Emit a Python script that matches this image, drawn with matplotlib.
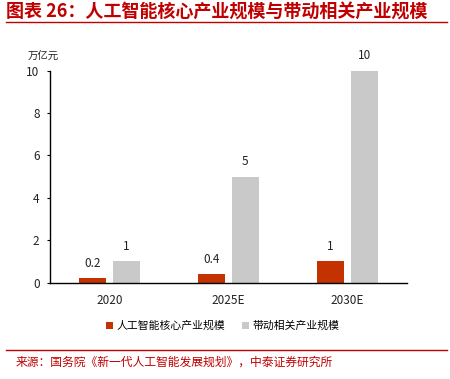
import numpy as np
import matplotlib.pyplot as plt
from matplotlib.lines import Line2D

plt.rcParams['font.family'] = ['Noto Sans CJK SC', 'DejaVu Sans']

years = ['2020', '2025E', '2030E']
core = [0.2, 0.4, 1]
related = [1, 5, 10]
core_lbl = ['0.2', '0.4', '1']
related_lbl = ['1', '5', '10']
names = ['人工智能核心产业规模', '带动相关产业规模']

red = '#C33200'
gray = '#C9C9C9'

fig = plt.figure(figsize=(4.5, 3.79), dpi=100)
ax = fig.add_axes([0.1111, 0.2541, 0.7926, 0.5594])

x = np.arange(len(years))
w = 0.227
b1 = ax.bar(x - 0.143, core, w, color=red, label=names[0])
b2 = ax.bar(x + 0.143, related, w, color=gray, label=names[1])

for bars, labs in ((b1, core_lbl), (b2, related_lbl)):
    for r, t in zip(bars, labs):
        ax.annotate(t, (r.get_x() + r.get_width() / 2, r.get_height()),
                    xytext=(0, 6), textcoords='offset points',
                    ha='center', va='bottom', fontsize=8.5, color='#222222')

ax.set_xlim(-0.5, 2.5)
ax.set_ylim(0, 10)
ax.set_yticks([0, 2, 4, 6, 8, 10])
ax.set_xticks(x)
ax.set_xticklabels(years)
ax.tick_params(axis='x', length=0, pad=8, labelsize=8.5, colors='#222222')
ax.tick_params(axis='y', length=2.5, pad=5, labelsize=8.5, colors='#222222', width=0.8)
ax.tick_params(axis='y', color='black')
for s in ['top', 'right']:
    ax.spines[s].set_visible(False)
for s in ['left', 'bottom']:
    ax.spines[s].set_linewidth(1.0)
    ax.spines[s].set_color('black')

fig.text(28 / 450, 1 - 57 / 379, '万亿元', fontsize=7.5, va='center', ha='left', color='#222222')

leg = fig.legend(handles=[b1, b2], loc='center', bbox_to_anchor=(0.495, 1 - 326 / 379),
                 ncol=2, frameon=False, fontsize=7.8, handlelength=0.6, handleheight=0.6,
                 handletextpad=0.3, columnspacing=1.6)

fig.text(6 / 450, 1 - 12 / 379, '图表 26：人工智能核心产业规模与带动相关产业规模',
         fontsize=13, fontweight='bold', color='#C00000', va='center', ha='left')
fig.add_artist(Line2D([6 / 450, 447 / 450], [1 - 22 / 379, 1 - 22 / 379],
                      color='#C00000', lw=1.0))
fig.add_artist(Line2D([6 / 450, 447 / 450], [1 - 350 / 379, 1 - 350 / 379],
                      color='#C00000', lw=1.0))
fig.text(16 / 450, 1 - 362 / 379, '来源：国务院《新一代人工智能发展规划》，中泰证券研究所',
         fontsize=8.5, color='#C00000', va='center', ha='left')

fig.savefig('out.png', dpi=100)
